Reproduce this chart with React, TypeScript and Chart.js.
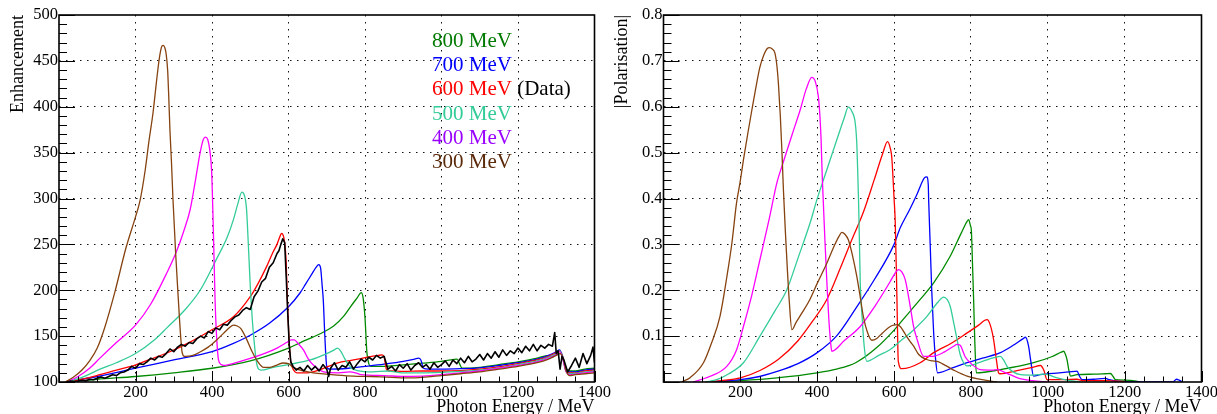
import React, { useEffect, useRef } from 'react';
import { Chart, registerables } from 'chart.js';

Chart.register(...registerables);

const FONT = '"Liberation Serif", "Times New Roman", serif';

// ---------- legend ----------
const legendLabels = ['800 MeV', '700 MeV', '600 MeV', '500 MeV', '400 MeV', '300 MeV'];
const legendColours = ['#007a00', '#0000ff', '#ff0000', '#33cc99', '#9900ff', '#5a2a0a'];
const dataTag = ' (Data)';

// ---------- line colours (same order as legend) ----------
const lineColours = ['#008a00', '#0000ff', '#ff0000', '#33cc99', '#ff00ff', '#86420f'];

// ---------- axes ----------
const xMin = 0;
const xMax = 1400;
const xStep = 200;
const enhMin = 100;
const enhMax = 500;
const enhStep = 50;
const polMin = 0;
const polMax = 0.8;
const polStep = 0.1;

// ---------- Enhancement (left) : [photon energy MeV, enhancement] ----------
const enhData = [
  [20, 100], [30, 101], [40, 100.5], [50, 101], [60, 102], [70, 101], [80, 103], [90, 102.5], [100, 104], [110, 105.5],
  [120, 104], [130, 106], [140, 108], [150, 107], [160, 110], [170, 111], [180, 113], [190, 117], [200, 115], [210, 120],
  [220, 119], [230, 122], [240, 126], [250, 124], [260, 128], [270, 127], [280, 131], [290, 136], [300, 133], [310, 138],
  [320, 141], [330, 139], [340, 143], [350, 142], [360, 147], [370, 150], [380, 148], [390, 155], [400, 153], [410, 159],
  [420, 157], [430, 163], [440, 162], [450, 167], [460, 171], [470, 173], [480, 178], [490, 181], [500, 179], [510, 193],
  [520, 199], [530, 209], [540, 213], [550, 225], [560, 230], [570, 240], [575, 243], [580, 250], [585, 256], [590, 252],
  [594, 215], [598, 175], [602, 140], [606, 122], [612, 117], [620, 113], [630, 116], [640, 112], [650, 118], [660, 113],
  [670, 117], [680, 112], [690, 119], [700, 114], [705, 106], [710, 115], [720, 121], [730, 113], [740, 118], [750, 116],
  [760, 122], [770, 114], [780, 120], [790, 125], [800, 122], [810, 127], [820, 124], [830, 129], [840, 126], [850, 128],
  [860, 114], [870, 117], [880, 112], [890, 119], [900, 115], [910, 120], [920, 113], [930, 118], [940, 121], [950, 116],
  [960, 119], [970, 114], [980, 121], [990, 116], [1000, 119], [1010, 123], [1020, 117], [1030, 124], [1040, 120], [1050, 126],
  [1060, 121], [1070, 128], [1080, 122], [1090, 125], [1100, 130], [1110, 124], [1120, 131], [1130, 126], [1140, 133], [1150, 127],
  [1160, 135], [1170, 129], [1180, 134], [1190, 131], [1200, 137], [1210, 132], [1220, 139], [1230, 134], [1240, 141], [1250, 134],
  [1260, 140], [1270, 137], [1280, 141], [1290, 139], [1296, 154], [1300, 131], [1305, 134], [1310, 114], [1315, 128], [1320, 124],
  [1330, 111], [1340, 118], [1350, 126], [1360, 116], [1370, 131], [1380, 120], [1390, 129], [1396, 138], [1400, 121],
];

const enh800 = [
  [20, 100], [100, 103], [200, 106], [300, 110], [400, 115], [500, 123], [600, 137], [631, 143], [680, 152], [718, 161],
  [745, 172], [762, 182], [780, 192], [790, 197.5], [795, 192], [800, 170], [805, 132], [810, 120], [814, 117], [850, 117],
  [892, 118.5], [950, 120.5], [1000, 122.5], [1030, 124.5], [1041, 125], [1047, 120], [1054, 115], [1100, 116], [1150, 119], [1200, 122],
  [1250, 126], [1280, 129], [1290, 127], [1300, 131], [1308, 134], [1316, 128], [1325, 115], [1335, 112], [1350, 112], [1375, 114], [1400, 115],
];

const enh700 = [
  [20, 100], [100, 106], [200, 115], [300, 124], [400, 133], [450, 141], [500, 151], [550, 164], [600, 182], [630, 197],
  [645, 207], [660, 217], [672, 225], [679, 228], [684, 224], [688, 205], [691, 189], [695, 150], [700, 117], [708, 114],
  [757, 115], [800, 117], [850, 119.5], [900, 122.5], [930, 125], [940, 126], [946, 124], [953, 115], [965, 114], [1000, 114],
  [1050, 114.5], [1100, 115.5], [1150, 118], [1200, 121], [1250, 125], [1280, 129], [1300, 133], [1308, 135], [1316, 129], [1325, 114],
  [1335, 111], [1350, 111], [1375, 113], [1400, 114],
];

const enh600 = [
  [20, 100], [60, 103], [107, 108], [150, 113], [199, 118.5], [240, 125], [282, 131.6], [340, 143], [400, 157], [456, 171],
  [500, 193], [520, 207], [543, 226], [560, 242], [570, 250], [578, 259], [582, 262], [586, 260], [590, 252], [594, 230],
  [597, 190], [601, 150], [605, 125], [609, 117], [617, 111], [622, 110], [650, 110], [680, 113], [727, 120.7], [770, 124],
  [814, 127.6], [835, 129], [845, 129.5], [850, 127], [857, 113], [870, 112], [900, 111.5], [950, 112], [1000, 112], [1050, 112.5],
  [1100, 114], [1150, 116.5], [1200, 120], [1250, 124], [1280, 128], [1300, 132], [1308, 134], [1316, 128], [1325, 113], [1335, 110],
  [1350, 110], [1375, 112], [1400, 113],
];

const enh500 = [
  [20, 100], [60, 105], [107, 114], [150, 121], [200, 131], [250, 146], [282, 159], [330, 179], [369, 200], [413, 235],
  [440, 258], [456, 277], [468, 295], [478, 307], [485, 303], [490, 290], [495, 250], [500, 205], [505, 170], [510, 145],
  [516, 122], [522, 114], [528, 113], [560, 116], [600, 119], [657, 124], [700, 131], [720, 135], [728, 137], [736, 134],
  [745, 127], [753, 121], [765, 115], [780, 112.5], [820, 111], [860, 112], [880, 111], [900, 110], [950, 110], [1000, 110.5],
  [1050, 111.5], [1100, 113], [1150, 115.5], [1200, 119], [1250, 123], [1280, 127], [1300, 131], [1308, 134], [1316, 128], [1325, 112],
  [1335, 109], [1350, 109.5], [1375, 111], [1400, 112],
];

const enh400 = [
  [20, 100], [50, 106], [80, 115], [107, 126], [150, 143], [200, 162], [240, 185], [282, 219], [305, 240], [325, 263],
  [343, 288], [356, 318], [369, 350], [377, 364], [383, 367], [389, 364], [395, 350], [399, 330], [402, 290], [405, 240],
  [408, 190], [412, 150], [417, 124], [424, 119], [430, 118], [470, 122], [510, 127], [543, 132], [570, 137], [595, 143],
  [607, 146], [615, 146], [625, 142], [639, 135], [652, 125], [665, 118.5], [692, 111], [730, 110], [760, 111], [775, 110],
  [790, 108], [850, 107], [900, 106], [950, 106.5], [1000, 108], [1050, 110], [1100, 112], [1150, 115], [1200, 118], [1250, 122],
  [1280, 126], [1300, 130], [1308, 133], [1316, 127], [1325, 112], [1335, 108], [1350, 108.5], [1375, 110], [1400, 111],
];

const enh300 = [
  [16, 100], [40, 106], [60, 113], [80, 123], [100, 137], [120, 160], [146, 198], [175, 246], [200, 280], [212, 298],
  [225, 330], [235, 362], [246, 394], [255, 428], [262, 452], [268, 465], [272, 467], [276, 465], [280, 458], [284, 440],
  [287, 410], [290, 375], [294, 340], [298, 299], [305, 240], [312, 190], [318, 150], [322, 132], [328, 128], [350, 129],
  [370, 133], [390, 138], [410, 145], [430, 153], [445, 159], [456, 162], [466, 161], [476, 158], [490, 147], [505, 133],
  [520, 122], [535, 116], [552, 116], [570, 118.5], [586, 120.7], [600, 120], [612, 116], [640, 112], [665, 110], [700, 108.5],
  [727, 107.6], [770, 106.5], [814, 106], [870, 105], [919, 104.4], [950, 105], [1000, 107], [1050, 109], [1100, 111], [1150, 114],
  [1200, 117], [1250, 121], [1280, 125], [1300, 129], [1310, 131], [1318, 126], [1326, 112], [1335, 107], [1350, 108], [1375, 109], [1400, 110],
];

// ---------- |Polarisation| (right) : [photon energy MeV, |P|] ----------
const pol800 = [
  [117, 0], [200, 0.003], [295, 0.009], [400, 0.02], [450, 0.028], [500, 0.042], [555, 0.075], [600, 0.113], [616, 0.129], [668, 0.18],
  [703, 0.216], [746, 0.274], [775, 0.325], [790, 0.35], [794, 0.354], [799, 0.34], [801, 0.332], [804, 0.26], [807, 0.18], [810, 0.09],
  [814, 0.02], [876.6, 0.027], [963, 0.042], [1010, 0.055], [1035, 0.065], [1041.5, 0.067], [1046, 0.06], [1050, 0.049], [1055, 0.025], [1059, 0.013],
  [1076, 0.016], [1120, 0.017], [1150, 0.018], [1163, 0.0185], [1170, 0.012], [1176, 0.005], [1200, 0.004], [1230, 0.002], [1240, 0],
];

const pol700 = [
  [110, 0], [200, 0.005], [250, 0.012], [300, 0.024], [350, 0.04], [400, 0.064], [450, 0.1], [500, 0.16], [550, 0.225], [600, 0.3],
  [616, 0.336], [640, 0.375], [660, 0.41], [679, 0.445], [685, 0.447], [689, 0.43], [690, 0.397], [694, 0.3], [698, 0.2], [703, 0.107],
  [708, 0.05], [713, 0.02], [750, 0.03], [790, 0.042], [830, 0.052], [876.6, 0.064], [910, 0.08], [935, 0.094], [942, 0.0975], [950, 0.078],
  [955, 0.05], [963, 0.013], [980, 0.016], [1030, 0.02], [1070, 0.023], [1076, 0.0235], [1083, 0.012], [1089, 0.005], [1120, 0.006], [1150, 0.008],
  [1160, 0.005], [1180, 0.002], [1200, 0.001], [1325, 0], [1335, 0.006], [1342, 0.004], [1350, 0],
];

const pol600 = [
  [110, 0], [150, 0.003], [200, 0.009], [251, 0.025], [300, 0.05], [350, 0.09], [390, 0.135], [425, 0.18], [461, 0.25], [490, 0.31],
  [520, 0.37], [548, 0.44], [570, 0.497], [583, 0.524], [590, 0.51], [594, 0.49], [600, 0.4], [603, 0.35], [607.5, 0.18], [611, 0.045],
  [620.5, 0.029], [668, 0.042], [703, 0.064], [750, 0.085], [790, 0.107], [820, 0.124], [835, 0.134], [842, 0.136], [850, 0.125], [859, 0.0925],
  [866, 0.05], [872, 0.02], [876, 0.018], [920, 0.025], [960, 0.032], [981, 0.036], [990, 0.025], [998, 0.005], [1040, 0.005], [1076, 0.006],
  [1090, 0.003], [1150, 0.003], [1200, 0.001],
];

const pol500 = [
  [110, 0], [138.6, 0.005], [170, 0.018], [208, 0.042], [251, 0.1], [290, 0.155], [321, 0.201], [350, 0.27], [381.6, 0.347], [399, 0.397],
  [420, 0.45], [451, 0.528], [470, 0.575], [481, 0.599], [490, 0.59], [499, 0.564], [503, 0.52], [505, 0.47], [507.5, 0.397], [510, 0.3],
  [512, 0.216], [517, 0.14], [522, 0.08], [529, 0.045], [560, 0.058], [590, 0.071], [616, 0.089], [650, 0.113], [685.6, 0.143], [715, 0.175],
  [729, 0.185], [738, 0.18], [746, 0.165], [755, 0.13], [764, 0.092], [772, 0.06], [781, 0.042], [790, 0.035], [830, 0.045], [860, 0.053],
  [876.6, 0.056], [885, 0.048], [894, 0.034], [910, 0.022], [929, 0.016], [960, 0.015], [990, 0.017], [1000, 0.016], [1020, 0.01], [1050, 0.004], [1085, 0],
];

const pol400 = [
  [77, 0], [120, 0.012], [164.6, 0.034], [190, 0.07], [208, 0.121], [230, 0.19], [251, 0.267], [275, 0.355], [295, 0.434], [312, 0.48],
  [335, 0.54], [355.6, 0.593], [372, 0.64], [386, 0.664], [395, 0.655], [403, 0.622], [407, 0.58], [410, 0.53], [413, 0.45], [416, 0.39],
  [420, 0.31], [425, 0.22], [430, 0.14], [435, 0.085], [438, 0.067], [470, 0.09], [512, 0.121], [550, 0.165], [590, 0.219], [605, 0.24],
  [612, 0.245], [620, 0.24], [629, 0.223], [642, 0.165], [651, 0.12], [660, 0.0925], [677, 0.056], [700, 0.056], [730, 0.065], [755, 0.078],
  [764, 0.082], [772, 0.08], [785, 0.055], [798, 0.042], [824, 0.027], [855, 0.026], [870, 0.027], [885, 0.022], [902, 0.016], [925, 0.008],
  [960, 0.003], [1000, 0],
];

const pol300 = [
  [47, 0], [70, 0.01], [104, 0.042], [125, 0.085], [147, 0.143], [165, 0.23], [178, 0.303], [190, 0.39], [199, 0.434], [208, 0.484],
  [220, 0.545], [230, 0.593], [240, 0.64], [251, 0.687], [262, 0.715], [270, 0.727], [276, 0.729], [283, 0.726], [290, 0.717], [295, 0.69],
  [299, 0.651], [304, 0.58], [308, 0.506], [312, 0.42], [317, 0.33], [322, 0.25], [327, 0.18], [334, 0.114], [345, 0.13], [360, 0.15],
  [381, 0.18], [400, 0.215], [425, 0.259], [445, 0.298], [457, 0.318], [464, 0.326], [472, 0.322], [481, 0.31], [492, 0.275], [503, 0.23],
  [512, 0.185], [520, 0.143], [530, 0.11], [542, 0.091], [555, 0.095], [570, 0.107], [590, 0.121], [600, 0.124], [607, 0.125], [616, 0.121],
  [630, 0.103], [642, 0.088], [651, 0.078], [664, 0.06], [685, 0.049], [700, 0.046], [712, 0.045], [725, 0.04], [738, 0.034], [760, 0.024],
  [790, 0.013], [830, 0.005], [868, 0],
];

const enhSeries = [enh800, enh700, enh600, enh500, enh400, enh300];
const polSeries = [pol800, pol700, pol600, pol500, pol400, pol300];

// ---------- helpers ----------
const toPts = (a: number[][]) => a.map(([x, y]) => ({ x, y }));

const mkLine = (label: string, pts: number[][], colour: string, width: number, smooth: boolean) => ({
  label,
  data: toPts(pts),
  borderColor: colour,
  backgroundColor: colour,
  borderWidth: width,
  pointRadius: 0,
  pointHoverRadius: 0,
  fill: false,
  tension: smooth ? 0.4 : 0,
  cubicInterpolationMode: smooth ? ('monotone' as const) : ('default' as const),
  borderJoinStyle: 'round' as const,
});

// ROOT-like frame with inside tick marks
const rootFrame = {
  id: 'rootFrame',
  afterDatasetsDraw(chart: any, _args: any, opts: any) {
    const { ctx, chartArea: a } = chart;
    const xs = chart.scales.x;
    const ys = chart.scales.y;
    ctx.save();
    ctx.strokeStyle = '#000';
    ctx.lineWidth = 1;
    const nx = Math.round((opts.xMax - opts.xMin) / opts.xMinor);
    for (let i = 0; i <= nx; i++) {
      const v = opts.xMin + i * opts.xMinor;
      const major = i % opts.xMajorEvery === 0;
      const px = Math.round(xs.getPixelForValue(v)) + 0.5;
      ctx.beginPath();
      ctx.moveTo(px, a.bottom);
      ctx.lineTo(px, a.bottom - (major ? 11 : 5.5));
      ctx.stroke();
    }
    const ny = Math.round((opts.yMax - opts.yMin) / opts.yMinor);
    for (let i = 0; i <= ny; i++) {
      const v = opts.yMin + i * opts.yMinor;
      const major = i % opts.yMajorEvery === 0;
      const py = Math.round(ys.getPixelForValue(v)) + 0.5;
      ctx.beginPath();
      ctx.moveTo(a.left, py);
      ctx.lineTo(a.left + (major ? 16 : 8), py);
      ctx.stroke();
    }
    ctx.lineWidth = 1.6;
    ctx.strokeRect(a.left, a.top, a.right - a.left, a.bottom - a.top);
    ctx.restore();
  },
};

// coloured text legend
const textLegend = {
  id: 'textLegend',
  afterDraw(chart: any, _args: any, opts: any) {
    if (!opts || !opts.show) return;
    const { ctx, chartArea: a } = chart;
    ctx.save();
    ctx.font = `21px ${FONT}`;
    ctx.textBaseline = 'alphabetic';
    ctx.textAlign = 'left';
    const x0 = a.left + 373;
    legendLabels.forEach((lab, i) => {
      const y = a.top + 32 + i * 24.2;
      ctx.fillStyle = legendColours[i];
      ctx.fillText(lab, x0, y);
      if (i === 2) {
        const w = ctx.measureText(lab).width;
        ctx.fillStyle = '#000';
        ctx.fillText(dataTag, x0 + w, y);
      }
    });
    ctx.restore();
  },
};

const gridColour = (lo: number, hi: number) => (c: any) => {
  const v = c.tick ? c.tick.value : null;
  if (v === null || v === undefined) return 'rgba(0,0,0,0)';
  return v > lo + 1e-9 && v < hi - 1e-9 ? '#111' : 'rgba(0,0,0,0)';
};

function makeOptions(kind: 'enh' | 'pol') {
  const isEnh = kind === 'enh';
  const yMin = isEnh ? enhMin : polMin;
  const yMax = isEnh ? enhMax : polMax;
  const yStep = isEnh ? enhStep : polStep;
  return {
    animation: false as const,
    responsive: false,
    maintainAspectRatio: false,
    events: [] as any[],
    layout: {
      padding: isEnh
        ? { left: 0, right: 1217 - 594.5, top: 15, bottom: 0 }
        : { left: 604, right: 15.5, top: 15, bottom: 0 },
    },
    plugins: {
      legend: { display: false },
      tooltip: { enabled: false },
      rootFrame: {
        xMin, xMax, xMinor: 50, xMajorEvery: 4,
        yMin, yMax, yMinor: isEnh ? 10 : 0.02, yMajorEvery: 5,
      },
      textLegend: { show: isEnh },
    },
    scales: {
      x: {
        type: 'linear' as const,
        min: xMin,
        max: xMax,
        afterFit: (s: any) => { s.height = 32; s.paddingLeft = 0; s.paddingRight = 0; },
        ticks: {
          stepSize: xStep,
          autoSkip: false,
          maxRotation: 0,
          padding: 1,
          color: '#000',
          font: { family: FONT, size: 16.5 },
          callback: (v: any) => (Number(v) === 0 ? '' : String(v)),
        },
        grid: { color: gridColour(xMin, xMax), lineWidth: 1, drawTicks: false },
        border: { display: false, dash: [1.5, 5.5] },
        title: {
          display: true,
          text: 'Photon Energy / MeV',
          align: 'end' as const,
          color: '#000',
          font: { family: FONT, size: 18, lineHeight: 1 },
          padding: { top: 0, bottom: -2.5 },
        },
      },
      y: {
        type: 'linear' as const,
        min: yMin,
        max: yMax,
        afterFit: (s: any) => { s.width = isEnh ? 59 : 59.5; s.paddingTop = 0; s.paddingBottom = 0; },
        ticks: {
          stepSize: yStep,
          autoSkip: false,
          padding: 1,
          color: '#000',
          font: { family: FONT, size: 16.5 },
          callback: (v: any) => {
            const n = Number(v);
            if (isEnh) return String(n);
            return Math.abs(n) < 1e-9 ? '' : n.toFixed(1);
          },
        },
        grid: { color: gridColour(yMin, yMax), lineWidth: 1, drawTicks: false },
        border: { display: false, dash: [1.5, 5.5] },
        title: {
          display: true,
          text: isEnh ? 'Enhancement' : '|Polarisation|',
          align: 'end' as const,
          color: '#000',
          font: { family: FONT, size: 18, lineHeight: 1 },
          padding: { top: 9.5, bottom: 0 },
        },
      },
    },
  };
}

export default function App() {
  const leftRef = useRef<HTMLCanvasElement | null>(null);
  const rightRef = useRef<HTMLCanvasElement | null>(null);

  useEffect(() => {
    if (!leftRef.current || !rightRef.current) return;

    const enhDatasets: any[] = [mkLine('600 MeV (Data)', enhData, '#000', 1.6, false)];
    for (let i = enhSeries.length - 1; i >= 0; i--) {
      enhDatasets.push(mkLine(legendLabels[i], enhSeries[i], lineColours[i], 1.3, true));
    }
    const polDatasets: any[] = [];
    for (let i = polSeries.length - 1; i >= 0; i--) {
      polDatasets.push(mkLine(legendLabels[i], polSeries[i], lineColours[i], 1.3, true));
    }

    const left = new Chart(leftRef.current, {
      type: 'line',
      data: { datasets: enhDatasets },
      options: makeOptions('enh') as any,
      plugins: [rootFrame, textLegend],
    });
    const right = new Chart(rightRef.current, {
      type: 'line',
      data: { datasets: polDatasets },
      options: makeOptions('pol') as any,
      plugins: [rootFrame, textLegend],
    });
    return () => {
      left.destroy();
      right.destroy();
    };
  }, []);

  const canvasStyle: React.CSSProperties = { position: 'absolute', left: 0, top: 0, width: 1217, height: 414 };
  return (
    <div style={{ position: 'fixed', left: 0, top: 0, width: 1217, height: 414, background: '#fff', overflow: 'hidden' }}>
      <canvas ref={leftRef} width={1217} height={414} style={canvasStyle} />
      <canvas ref={rightRef} width={1217} height={414} style={canvasStyle} />
    </div>
  );
}
